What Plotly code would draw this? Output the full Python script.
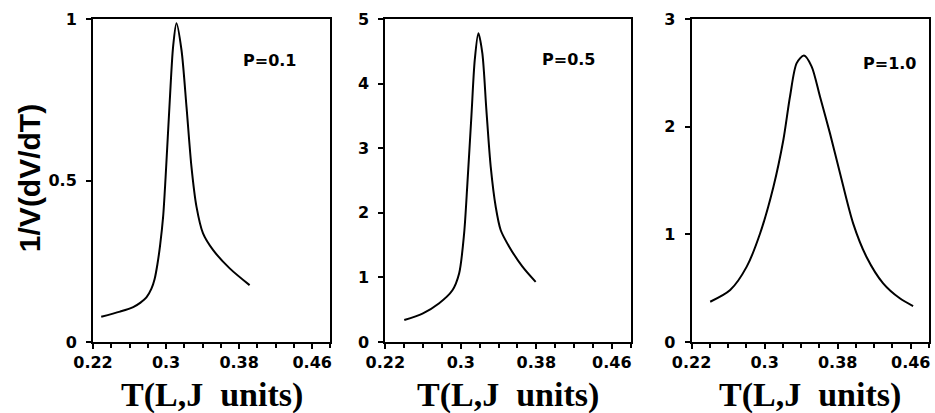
import plotly.graph_objects as go

# Panel P=0.1
t1 = [0.229, 0.2495, 0.264, 0.272, 0.2785, 0.284, 0.2875, 0.2905, 0.2935, 0.2968, 0.2995, 0.3041, 0.3077, 0.3114,
      0.3169, 0.3224, 0.3278, 0.3333, 0.3405, 0.3514, 0.3697, 0.3915]
v1 = [0.078, 0.094, 0.108, 0.122, 0.138, 0.165, 0.195, 0.24, 0.3, 0.388, 0.51, 0.749, 0.914, 0.987,
      0.904, 0.728, 0.543, 0.419, 0.336, 0.285, 0.228, 0.176]

# Panel P=0.5
t2 = [0.2401, 0.2594, 0.2771, 0.2911, 0.2982, 0.3035, 0.307, 0.3112, 0.3148, 0.3186,
      0.3228, 0.3271, 0.3317, 0.337, 0.3423, 0.3511, 0.3651, 0.3793]
v2 = [0.34, 0.44, 0.60, 0.80, 1.06, 1.68, 2.46, 3.49, 4.37, 4.78,
      4.47, 3.59, 2.71, 2.09, 1.73, 1.48, 1.17, 0.93]

# Panel P=1.0
t3 = [0.2404, 0.2623, 0.2804, 0.2951, 0.3096, 0.3205, 0.3278, 0.3351, 0.3431, 0.3514,
      0.3606, 0.3715, 0.3825, 0.397, 0.4116, 0.4298, 0.448, 0.4626]
v3 = [0.374, 0.483, 0.70, 1.01, 1.44, 1.876, 2.28, 2.59, 2.66, 2.56,
      2.28, 1.94, 1.57, 1.10, 0.79, 0.545, 0.406, 0.334]

labels = ["P=0.1", "P=0.5", "P=1.0"]
label_pos = [(0.4134, 0.873), (0.4145, 4.37), (0.4363, 2.59)]
y_ranges = [[0, 1], [0, 5], [0, 3]]
y_ticks = [[0, 0.5, 1], [0, 1, 2, 3, 4, 5], [0, 1, 2, 3]]
y_ticktext = [["0", "0.5", "1"], ["0", "1", "2", "3", "4", "5"], ["0", "1", "2", "3"]]
x_ticks = [0.22, 0.30, 0.38, 0.46]
x_ticktext = ["0.22", "0.3", "0.38", "0.46"]
x_title = "T(L,J\u00a0\u00a0units)"
y_title = "1/V(dV/dT)"

W, H = 935, 413
L, R, T, B = 93, 4, 19, 71
pw = W - L - R
ph = H - T - B
px_dom = [(93, 331), (386, 632), (693, 931)]
domains = [((a - L) / pw, (b - L) / pw) for a, b in px_dom]

fig = go.Figure()
tickfont = dict(family="DejaVu Sans", size=16, color="black", weight="bold")
series = [(t1, v1), (t2, v2), (t3, v3)]
for i, (t, v) in enumerate(series):
    sfx = "" if i == 0 else str(i + 1)
    fig.add_trace(go.Scatter(x=t, y=v, mode="lines", line=dict(color="black", width=2, shape="spline", smoothing=0.8),
                             xaxis="x" + sfx, yaxis="y" + sfx, showlegend=False, hoverinfo="skip"))
    xa = dict(domain=list(domains[i]), range=[0.22, 0.48], anchor="y" + sfx,
              tickvals=x_ticks, ticktext=x_ticktext, ticks="outside", ticklen=5, tickwidth=1.5,
              tickcolor="black", showline=True, linecolor="black", linewidth=2, mirror=True,
              showgrid=False, zeroline=False, tickfont=tickfont,
              minor=dict(tick0=0.22, dtick=0.02, ticks="outside", ticklen=4, tickwidth=1.5, tickcolor="black", showgrid=False))
    ya = dict(domain=[0, 1], range=y_ranges[i], anchor="x" + sfx,
              tickvals=y_ticks[i], ticktext=y_ticktext[i], ticks="outside", ticklen=5, tickwidth=1.5,
              tickcolor="black", showline=True, linecolor="black", linewidth=2, mirror=True,
              showgrid=False, zeroline=False, tickfont=tickfont, ticklabelstandoff=6)
    fig.update_layout(**{"xaxis" + sfx: xa, "yaxis" + sfx: ya})
    fig.add_annotation(x=label_pos[i][0], y=label_pos[i][1], xref="x" + sfx, yref="y" + sfx,
                       text=labels[i], showarrow=False, xanchor="center", yanchor="middle",
                       font=dict(family="DejaVu Sans", size=16, color="black", weight="bold"))
    cx = (domains[i][0] + domains[i][1]) / 2
    fig.add_annotation(x=cx, y=(342 - 395) / ph, xref="paper", yref="paper", text=x_title,
                       showarrow=False, xanchor="center", yanchor="middle",
                       font=dict(family="Liberation Serif", size=34, color="black", weight="bold"))

fig.add_annotation(x=(29 - L) / pw, y=(342 - 178) / ph, xref="paper", yref="paper", text=y_title,
                   textangle=-90, showarrow=False, xanchor="center", yanchor="middle",
                   font=dict(family="Liberation Sans", size=30, color="black", weight="bold"))

fig.update_layout(width=W, height=H, margin=dict(l=L, r=R, t=T, b=B),
                  paper_bgcolor="white", plot_bgcolor="white")
fig.write_html("out.html", config={"displayModeBar": False},
               post_script="document.body.style.margin='0';document.body.style.overflow='hidden';")
